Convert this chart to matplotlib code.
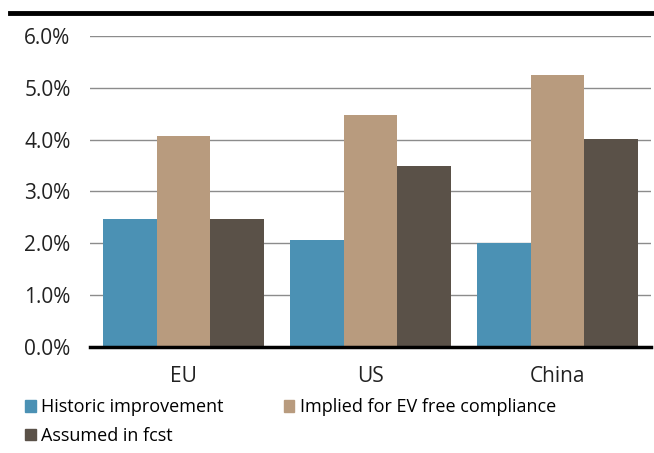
import numpy as np
import matplotlib.pyplot as plt
from matplotlib.lines import Line2D
from matplotlib.patches import Patch

plt.rcParams['font.family'] = ['Open Sans', 'DejaVu Sans']

regions = ['EU', 'US', 'China']
historic = [2.47, 2.06, 2.00]
implied = [4.07, 4.48, 5.25]
assumed = [2.47, 3.50, 4.01]
series_names = ['Historic improvement', 'Implied for EV free compliance', 'Assumed in fcst']
colors = ['#4b91b4', '#b89b7e', '#5a5148']

fig = plt.figure(figsize=(6.54, 4.53), dpi=100)
ax = fig.add_axes([90 / 654, 106.3 / 453, 561 / 654, 310.5 / 453])

x = np.arange(len(regions))
w = 0.287
for i, (vals, c) in enumerate(zip([historic, implied, assumed], colors)):
    ax.bar(x + (i - 1) * w, vals, width=w, color=c, zorder=3)

ax.set_xlim(-0.5, len(regions) - 0.5)
ax.set_ylim(0, 6)
ax.set_yticks(np.arange(0, 7, 1))
ax.set_yticklabels([f'{v:.1f}%' for v in np.arange(0, 7, 1)], fontsize=15, color='#222222')
ax.set_xticks(x)
ax.set_xticklabels(regions, fontsize=15, color='#222222')
ax.tick_params(axis='y', length=0, pad=14)
ax.tick_params(axis='x', length=0, pad=14)
ax.grid(axis='y', color='#8c8c8c', linewidth=1.0, zorder=0)
for s in ['top', 'right', 'left']:
    ax.spines[s].set_visible(False)
ax.spines['bottom'].set_linewidth(2.5)
ax.spines['bottom'].set_color('black')
ax.spines['bottom'].set_zorder(4)

# thick rule across the top of the figure
fig.add_artist(Line2D([10 / 654, 1.0], [1 - 13.3 / 453, 1 - 13.3 / 453],
                      color='black', linewidth=3.5, transform=fig.transFigure))

handles = [Patch(color=colors[0]), Patch(color=colors[2]), Patch(color=colors[1])]
labels = [series_names[0], series_names[2], series_names[1]]
fig.legend(handles, labels, ncol=2, loc='upper left', bbox_to_anchor=(18 / 654, 1 - 391 / 453),
           frameon=False, fontsize=13,
           handlelength=0.6, handleheight=0.6, handletextpad=0.3,
           columnspacing=3.3, labelspacing=0.58, borderaxespad=0)

fig.savefig('out.png', dpi=100)
